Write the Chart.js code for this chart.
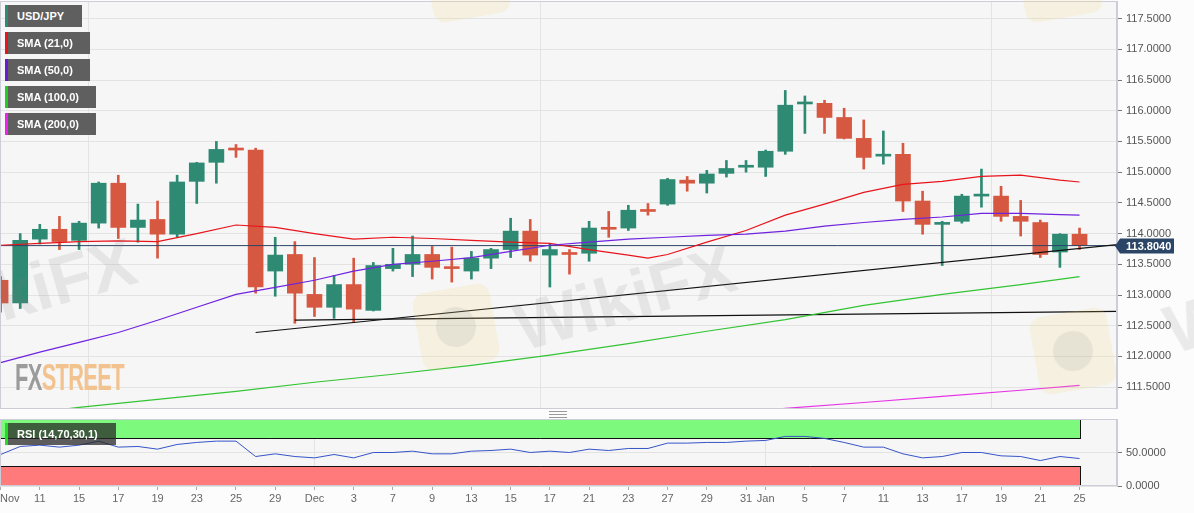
<!DOCTYPE html>
<html><head><meta charset="utf-8">
<script src="https://cdn.jsdelivr.net/npm/chart.js@4.4.1/dist/chart.umd.min.js"></script>
<style>
html,body{margin:0;padding:0;background:#fcfcfc;width:1194px;height:513px;overflow:hidden;font-family:"Liberation Sans",Arial,sans-serif;}
#wrap{position:relative;width:1194px;height:513px;}
canvas{position:absolute;left:0;}
#main{top:0;}
#rsi{top:410px;}
.lg{position:absolute;left:5px;height:22px;background:#5f5f5f;color:#fff;font-weight:bold;font-size:11px;line-height:22px;padding-left:12px;box-sizing:border-box;white-space:nowrap;}
.lg i{position:absolute;left:0;top:0;width:3px;height:22px;}
#rsilg{position:absolute;left:5px;top:423px;width:111px;height:22px;background:rgba(40,40,40,0.75);color:#fff;font-weight:bold;font-size:11px;line-height:22px;padding-left:12px;box-sizing:border-box;white-space:nowrap;}
#rsilg i{position:absolute;left:0;top:0;width:3px;height:22px;background:#22dd22;}
#fxs{position:absolute;left:15px;top:360px;font-family:"Liberation Sans Narrow","Liberation Sans",Arial,sans-serif;font-weight:bold;font-size:36px;line-height:36px;transform:scale(0.605,1);transform-origin:0 0;white-space:nowrap;letter-spacing:-1px;}
#fxs .a{color:#9b9b9b}#fxs .b{color:#f2c28f}
.wm{position:absolute;width:230px;height:76px;line-height:76px;text-align:center;font-family:"Liberation Sans",Arial,sans-serif;font-weight:bold;font-size:68px;color:rgba(130,130,130,0.14);transform:rotate(-16deg);transform-origin:50% 50%;white-space:nowrap;pointer-events:none;}
.sq{position:absolute;width:78px;height:78px;border-radius:12px;background:rgba(245,210,110,0.16);transform:rotate(-10deg);pointer-events:none;}
.sq:after{content:"";position:absolute;left:19px;top:19px;width:40px;height:40px;border-radius:50%;background:rgba(130,130,130,0.13);}
#handle{position:absolute;left:549px;top:411px;width:18px;height:5px;border-top:1px solid #999;border-bottom:1px solid #999;}
#handle:after{content:"";position:absolute;left:0;top:2px;width:18px;height:1px;background:#999;}
</style></head>
<body><div id="wrap">
<canvas id="main" width="1194" height="409"></canvas>
<canvas id="rsi" width="1194" height="103"></canvas>
<div class="sq" style="left:1034px;top:312px"></div>
<div class="sq" style="left:417px;top:288px"></div>
<div class="sq" style="left:428px;top:-60px"></div>
<div class="sq" style="left:1020px;top:-60px"></div>
<div class="wm" style="left:-90px;top:252px">WikiFX</div>
<div class="wm" style="left:510px;top:259px">WikiFX</div>
<div class="wm" style="left:1160px;top:262px">WikiFX</div>
<div id="fxs"><span class="a">FX</span><span class="b">STREET</span></div>
<div class="lg" style="top:5px;width:77px"><i style="background:#2f8a73"></i>USD/JPY</div>
<div class="lg" style="top:32px;width:85px"><i style="background:#e8141c"></i>SMA (21,0)</div>
<div class="lg" style="top:59px;width:85px"><i style="background:#6a1bd8"></i>SMA (50,0)</div>
<div class="lg" style="top:86px;width:91px"><i style="background:#22cc22"></i>SMA (100,0)</div>
<div class="lg" style="top:113px;width:91px"><i style="background:#ee22ee"></i>SMA (200,0)</div>
<div id="rsilg"><i></i>RSI (14,70,30,1)</div>
<div id="handle"></div>
</div>
<script>
// ---------- DATA ----------
// trading days 9 Nov 2021 .. 25 Jan 2022 (index 0..55)
const tickIdx  = [0,2,4,6,8,10,12,14,16,18,20,22,24,26,28,30,32,34,36,38,39,41,43,45,47,49,51,53,55];
const tickText = ['Nov','11','15','17','19','23','25','29','Dec','3','7','9','13','15','17','21','23','27','29','31','Jan','5','7','11','13','17','19','21','25'];
const monthIdx = [16,39];

const opens  = [113.24,112.87,113.91,114.07,113.89,114.17,114.82,114.10,114.23,113.99,114.85,115.16,115.37,115.36,113.39,113.66,113.01,112.80,113.17,112.75,113.43,113.50,113.66,113.45,113.39,113.60,113.74,114.04,113.65,113.68,113.68,114.09,114.09,114.38,114.48,114.87,114.82,114.98,115.08,115.08,115.34,116.11,116.12,115.89,115.55,115.26,115.29,114.53,114.15,114.20,114.61,114.61,114.28,114.18,113.70,113.99];
const highs  = [113.30,114.00,114.15,114.28,114.20,114.84,114.95,114.48,114.53,114.95,115.16,115.50,115.45,115.39,113.94,113.87,113.61,113.32,113.60,113.53,113.76,113.96,113.79,113.78,113.71,113.76,114.25,114.23,113.83,113.74,114.20,114.36,114.46,114.49,114.90,114.93,115.03,115.19,115.19,115.36,116.33,116.24,116.17,116.04,115.85,115.67,115.47,114.69,114.20,114.64,115.05,114.77,114.54,114.22,114.00,114.09];
const lows   = [112.72,112.78,113.83,113.74,113.74,114.09,113.92,113.86,113.60,113.94,114.49,114.82,115.24,113.03,112.98,112.54,112.65,112.62,112.56,112.74,113.39,113.30,113.26,113.21,113.26,113.43,113.61,113.55,113.13,113.34,113.55,113.94,114.05,114.30,114.46,114.69,114.66,114.92,115.00,114.93,115.29,115.63,115.63,115.54,115.05,115.13,114.36,113.99,113.48,114.17,114.43,114.20,113.96,113.61,113.45,113.74];
const closes = [112.87,113.89,114.07,113.87,114.17,114.82,114.10,114.22,113.99,114.84,115.15,115.37,115.36,113.13,113.65,113.03,112.80,113.17,112.77,113.48,113.50,113.66,113.45,113.43,113.60,113.74,114.04,113.65,113.74,113.66,114.09,114.07,114.38,114.36,114.88,114.82,114.97,115.06,115.10,115.34,116.09,116.12,115.89,115.55,115.24,115.28,114.53,114.15,114.18,114.61,114.62,114.28,114.20,113.66,113.99,113.804];

const sma21Idx = [0,2,4,6,8,10,12,14,16,18,20,22,24,26,28,30,32,33,34,36,38,40,42,44,46,48,50,52,54,55];
const sma21    = [113.81,113.84,113.87,113.88,113.87,114.00,114.14,114.10,114.00,113.91,113.94,113.92,113.89,113.86,113.84,113.74,113.65,113.60,113.66,113.86,114.05,114.30,114.48,114.67,114.80,114.85,114.93,114.95,114.87,114.84];
const sma50Idx = [0,2,4,6,8,10,12,14,16,18,20,22,24,26,28,30,32,34,36,38,40,42,44,46,48,50,52,54,55];
const sma50    = [111.90,112.07,112.23,112.39,112.59,112.80,113.01,113.125,113.24,113.39,113.50,113.55,113.61,113.71,113.81,113.86,113.91,113.94,113.97,113.99,114.04,114.12,114.18,114.23,114.27,114.33,114.33,114.31,114.30];
const sma100Idx = [0,4,8,12,16,20,24,28,32,36,40,44,48,52,55];
const sma100    = [111.02,111.17,111.30,111.43,111.58,111.71,111.855,112.02,112.21,112.41,112.60,112.83,113.01,113.17,113.30];
const sma200Idx = [36,38,40,44,48,52,55];
const sma200    = [111.06,111.09,111.155,111.25,111.35,111.45,111.53];

const trend1 = [[13,112.39],[56.91,113.82]];
const trend2 = [[15,112.59],[56.91,112.735]];

const rsi = [47,59,61,58,61,67,58,59,55,62,65,67,67,44,48,44,42,47,42,50,50,52,48,48,52,53,55,50,52,50,55,53,56,56,64,64,65,65,67,68,74,74,71,65,58,58,48,42,44,50,50,45,44,38,44,41];

const priceTicks = [111.5,112,112.5,113,113.5,114,114.5,115,115.5,116,116.5,117,117.5];
const rsiTicks = [0,50];
const rsiBands = [[70,100],[0,30]];

// ---------- STYLE ----------
const X_MIN=-0.03, X_MAX=56.91, Y_MIN=111.1445, Y_MAX=117.786;
const GREEN='#2f8a73', RED='#d75841', GRID='#e3e3e3', BORDER='#cdcdd9', PLOTBG='#f6f6f6';
Chart.defaults.font.family='"Liberation Sans", Arial, sans-serif';
Chart.defaults.font.size=11;

const candleCol = closes.map((c,i)=> c>=opens[i] ? GREEN : RED);
const pts = (idx,vals)=> idx.map((x,k)=>({x:x,y:vals[k]}));
const lineDs = (data,color,w)=>({type:'line',data:data,borderColor:color,borderWidth:w||1.2,pointRadius:0,tension:0,order:1,fill:false});

const bgPlugin = {
  id:'bg',
  beforeDraw(c){const a=c.chartArea,x=c.ctx;x.save();x.fillStyle=PLOTBG;x.fillRect(a.left,a.top,a.right-a.left,a.bottom-a.top);x.restore();},
  afterDraw(c){const a=c.chartArea,x=c.ctx;x.save();x.strokeStyle=BORDER;x.lineWidth=1;x.strokeRect(a.left+0.5,a.top+0.5,a.right-a.left-1,a.bottom-a.top-1);x.restore();}
};
const lastPlugin = {
  id:'last',
  afterDraw(c){
    const v=closes[closes.length-1], y=Math.round(c.scales.y.getPixelForValue(v)), r=c.chartArea.right, x=c.ctx;
    x.save();x.fillStyle='#2b4566';x.beginPath();
    x.moveTo(r-2,y);x.lineTo(r+3,y-7.5);x.lineTo(r+57,y-7.5);x.lineTo(r+57,y+7.5);x.lineTo(r+3,y+7.5);x.closePath();x.fill();
    x.fillStyle='#fff';x.font='bold 11px "Liberation Sans", Arial, sans-serif';x.textBaseline='middle';x.textAlign='left';
    x.fillText(v.toFixed(4),r+9,y+0.5);x.restore();
  }
};

new Chart(document.getElementById('main'),{
  type:'bar',
  data:{datasets:[
    {type:'bar',data:highs.map((h,i)=>({x:i,y:[lows[i],h]})),backgroundColor:candleCol,barThickness:2,grouped:false,order:10},
    {type:'bar',data:opens.map((o,i)=>({x:i,y:[o,closes[i]]})),backgroundColor:candleCol,barThickness:15,minBarLength:2,grouped:false,order:9},
    lineDs(pts(sma200Idx,sma200),'#e633e6'),
    lineDs(pts(sma100Idx,sma100),'#33c433'),
    lineDs(pts(sma50Idx,sma50),'#7022e0'),
    lineDs(pts(sma21Idx,sma21),'#e8141c'),
    lineDs(trend1.map(p=>({x:p[0],y:p[1]})),'#111',1.2),
    lineDs(trend2.map(p=>({x:p[0],y:p[1]})),'#111',1.2),
    lineDs([{x:X_MIN,y:closes[closes.length-1]},{x:X_MAX,y:closes[closes.length-1]}],'#2b4566',1)
  ]},
  options:{
    responsive:false,animation:false,devicePixelRatio:1,
    layout:{padding:{top:1,left:0,right:0,bottom:0}},
    plugins:{legend:{display:false},tooltip:{enabled:false}},
    scales:{
      x:{type:'linear',min:X_MIN,max:X_MAX,offset:false,
        ticks:{display:false},grid:{color:GRID,drawTicks:false,tickLength:0},border:{display:false},
        afterBuildTicks:s=>{s.ticks=monthIdx.map(v=>({value:v}));},
        afterFit:s=>{s.height=0;s.paddingLeft=0;s.paddingRight=0;}},
      y:{type:'linear',position:'right',min:Y_MIN,max:Y_MAX,
        ticks:{color:'#555',padding:4,callback:v=>Number(v).toFixed(4)},
        grid:{color:GRID,tickColor:'#777',tickLength:5},border:{color:BORDER},
        afterBuildTicks:s=>{s.ticks=priceTicks.map(v=>({value:v}));},
        afterFit:s=>{s.width=77;s.paddingTop=0;s.paddingBottom=0;}}
    }
  },
  plugins:[bgPlugin,lastPlugin]
});

const rsiPlugin = {
  id:'rsibands',
  beforeDatasetsDraw(c){
    const a=c.chartArea,x=c.ctx,xs=c.scales.x,ys=c.scales.y;
    const l=a.left, r=Math.round(xs.getPixelForValue(rsi.length-1))+0.5;
    const cols=['#7dfa7d','#ff7b7b'];
    x.save();
    rsiBands.forEach((b,k)=>{
      const y1=Math.round(ys.getPixelForValue(b[1])), y0=Math.round(ys.getPixelForValue(b[0]));
      x.fillStyle=cols[k];x.fillRect(l,y1,r-l,y0-y1);
      x.strokeStyle='#111';x.lineWidth=1;x.beginPath();
      const inner = k===0 ? y0-0.5 : y1+0.5;
      x.moveTo(l,inner);x.lineTo(r,inner);
      x.moveTo(r,y1);x.lineTo(r,y0);
      x.moveTo(l+0.5,y1);x.lineTo(l+0.5,y0);
      x.stroke();
    });
    x.restore();
  }
};

new Chart(document.getElementById('rsi'),{
  type:'line',
  data:{datasets:[{data:rsi.map((v,i)=>({x:i,y:v})),borderColor:'#3654c8',borderWidth:1,pointRadius:0,tension:0,fill:false}]},
  options:{
    responsive:false,animation:false,devicePixelRatio:1,
    layout:{padding:{top:9,left:0,right:0,bottom:0}},
    plugins:{legend:{display:false},tooltip:{enabled:false}},
    scales:{
      x:{type:'linear',min:X_MIN,max:X_MAX,offset:false,
        ticks:{autoSkip:false,maxRotation:0,minRotation:0,color:'#666',padding:2,
          callback:v=>{const k=tickIdx.indexOf(v);if(k<0)return '';return k===0?'      '+tickText[k]:tickText[k];}},
        grid:{color:ctx=>(ctx.tick&&monthIdx.includes(ctx.tick.value))?GRID:'rgba(0,0,0,0)',tickColor:'#aaa',tickLength:4},
        border:{display:false},
        afterBuildTicks:s=>{s.ticks=tickIdx.map(v=>({value:v}));},
        afterFit:s=>{s.height=27;s.paddingLeft=0;s.paddingRight=0;}},
      y:{type:'linear',position:'right',min:0,max:100,
        ticks:{color:'#555',padding:4,callback:v=>Number(v).toFixed(4)},
        grid:{color:GRID,tickColor:'#777',tickLength:5},border:{color:BORDER},
        afterBuildTicks:s=>{s.ticks=rsiTicks.map(v=>({value:v}));},
        afterFit:s=>{s.width=77;s.paddingTop=0;s.paddingBottom=0;}}
    }
  },
  plugins:[bgPlugin,rsiPlugin]
});
</script>
</body></html>
